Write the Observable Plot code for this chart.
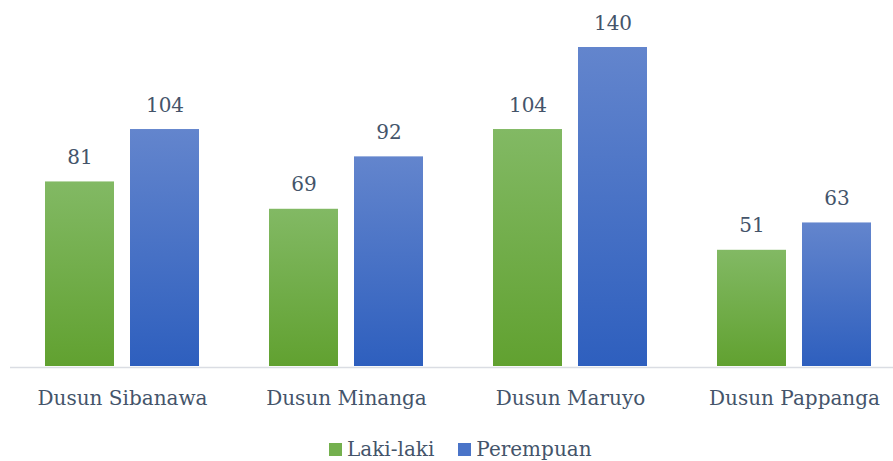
<!DOCTYPE html>
<html>
<head>
<meta charset="utf-8">
<script src="https://cdn.jsdelivr.net/npm/d3@7"></script>
<script src="https://cdn.jsdelivr.net/npm/@observablehq/plot@0.6"></script>
<style>
  html, body { margin: 0; padding: 0; background: #fff; }
  body { width: 893px; height: 461px; overflow: hidden; font-family: "DejaVu Serif", serif; }
  #legend { box-sizing: border-box; height: 36px; display: flex; align-items: center; padding-left: 329px; padding-top: 12px; color: #44546a; font-size: 20px; line-height: 22px; }
  #legend .sw { width: 13px; height: 13px; display: inline-block; margin-right: 5px; }
  #legend .item { display: flex; align-items: center; margin-right: 24px; }
</style>
</head>
<body>
<div id="chart"></div>
<div id="legend"></div>
<script>
const categories = ["Dusun Sibanawa", "Dusun Minanga", "Dusun Maruyo", "Dusun Pappanga"];
const seriesNames = ["Laki-laki", "Perempuan"];
const lakiLaki = [81, 69, 104, 51];
const perempuan = [104, 92, 140, 63];

const data = categories.flatMap((c, i) => [
  {cat: c, sex: seriesNames[0], v: lakiLaki[i]},
  {cat: c, sex: seriesNames[1], v: perempuan[i]}
]);

const textColor = "#44546a";
const font = "DejaVu Serif";

const defs = () => {
  const ns = "http://www.w3.org/2000/svg";
  const d = document.createElementNS(ns, "defs");
  const mk = (id, top, bottom) => {
    const g = document.createElementNS(ns, "linearGradient");
    g.setAttribute("id", id);
    g.setAttribute("x1", "0"); g.setAttribute("y1", "0");
    g.setAttribute("x2", "0"); g.setAttribute("y2", "1");
    const s1 = document.createElementNS(ns, "stop");
    s1.setAttribute("offset", "0"); s1.setAttribute("stop-color", top);
    const s2 = document.createElementNS(ns, "stop");
    s2.setAttribute("offset", "1"); s2.setAttribute("stop-color", bottom);
    g.appendChild(s1); g.appendChild(s2);
    d.appendChild(g);
  };
  mk("gGreen", "#82b964", "#61a130");
  mk("gBlue", "#6385cd", "#2e5fbe");
  return d;
};

const chart = Plot.plot({
  width: 893,
  height: 425,
  marginTop: 47,
  marginBottom: 59,
  marginLeft: 0,
  marginRight: 0,
  style: {fontFamily: font, fontSize: "20px", color: textColor, background: "#fff", overflow: "hidden"},
  fx: {domain: categories, range: [10, 906], paddingInner: 0.3036, paddingOuter: 0.1518, label: null, tickSize: 0, tickPadding: 24},
  x: {domain: seriesNames, paddingInner: 0.186, paddingOuter: 0, axis: null},
  y: {domain: [0, 140], axis: null},
  marks: [
    defs,
    Plot.barY(data.filter(d => d.sex === seriesNames[0]), {fx: "cat", x: "sex", y: "v", fill: "url(#gGreen)"}),
    Plot.barY(data.filter(d => d.sex === seriesNames[1]), {fx: "cat", x: "sex", y: "v", fill: "url(#gBlue)"}),
    Plot.ruleY([0], {stroke: "#dadde3", strokeWidth: 1.5, insetLeft: -34, insetRight: -34, dy: 1}),
    Plot.text(data, {fx: "cat", x: "sex", y: "v", text: d => String(d.v), dy: -18, lineAnchor: "bottom", fill: textColor, fontSize: 20})
  ]
});
document.getElementById("chart").appendChild(chart);

const legendColors = ["#74b04e", "#4a74c8"];
const legend = document.getElementById("legend");
seriesNames.forEach((s, i) => {
  const item = document.createElement("span");
  item.className = "item";
  const sw = document.createElement("span");
  sw.className = "sw";
  sw.style.background = legendColors[i];
  item.appendChild(sw);
  item.appendChild(document.createTextNode(s));
  legend.appendChild(item);
});
</script>
</body>
</html>
